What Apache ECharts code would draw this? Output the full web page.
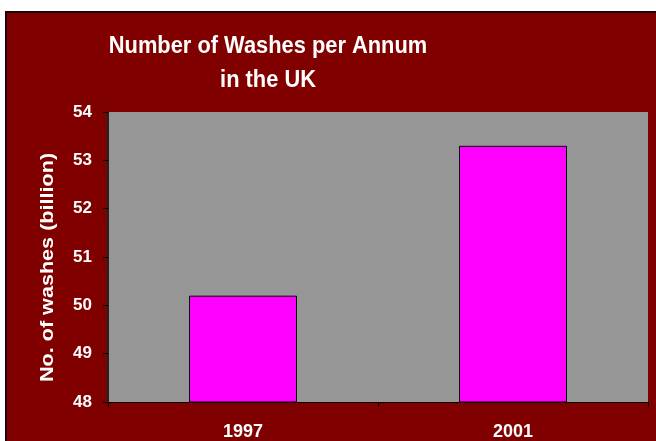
<!DOCTYPE html>
<html>
<head>
<meta charset="utf-8">
<script src="https://cdn.jsdelivr.net/npm/echarts@6/dist/echarts.min.js"></script>
<style>
  html, body { margin: 0; padding: 0; background: #ffffff; }
  #frame {
    position: absolute; left: 5px; top: 11px;
    width: 651px; height: 430px;
    border-left: 2px solid #1a0000; border-top: 2px solid #1a0000;
    box-sizing: border-box;
  }
  #chart { width: 100%; height: 100%; }
</style>
</head>
<body>
<div id="frame"><div id="chart"></div></div>
<script>
// Washes per year in the UK, in billions
const years = ['1997', '2001'];
const washes = [50.2, 53.3];
const yTicks = { min: 48, max: 54, step: 1 };
const titleLines = ['Number of Washes per Annum', 'in the UK'];
const yName = 'No. of washes (billion)';

const chart = echarts.init(document.getElementById('chart'), null, { renderer: 'canvas' });
const font = 'Liberation Sans, Arial, sans-serif';
const white = '#ffffff';

// Title and axis name are drawn as graphic text so the tall, narrow lettering can be reproduced
function label(text, x, y, size, opts) {
  return Object.assign({
    type: 'text', x: x, y: y, silent: true,
    style: {
      text: text, fill: white, font: 'bold ' + size + 'px ' + font,
      align: 'center', verticalAlign: 'middle'
    }
  }, opts || {});
}

chart.setOption({
  backgroundColor: '#800000',
  animation: false,
  graphic: [
    label(titleLines[0], 261, 33.5, 24, { scaleX: 0.91 }),
    label(titleLines[1], 261, 67.5, 24, { scaleX: 0.91 }),
    label(yName, 41, 254.5, 18, { rotation: Math.PI / 2, scaleX: 1.2 })
  ],
  grid: { left: 101, top: 99, right: 8, bottom: 39, backgroundColor: '#969696', show: true, borderWidth: 0 },
  xAxis: {
    type: 'category',
    data: years,
    axisLine: { lineStyle: { color: '#000000', width: 1 } },
    axisTick: { show: true, length: 5, alignWithLabel: false, lineStyle: { color: '#000000' } },
    axisLabel: { color: white, fontFamily: font, fontWeight: 'bold', fontSize: 18, margin: 21 }
  },
  yAxis: {
    type: 'value',
    min: yTicks.min, max: yTicks.max, interval: yTicks.step,
    axisLine: { show: true, lineStyle: { color: '#222222', width: 2 } },
    axisTick: { show: true, length: 5, lineStyle: { color: '#000000' } },
    axisLabel: { color: white, fontFamily: font, fontWeight: 'bold', fontSize: 17, margin: 16 },
    splitLine: { show: false }
  },
  series: [{
    type: 'bar',
    data: washes,
    barWidth: '40%',
    itemStyle: { color: '#ff00ff', borderColor: '#000000', borderWidth: 1 }
  }]
});
</script>
</body>
</html>
